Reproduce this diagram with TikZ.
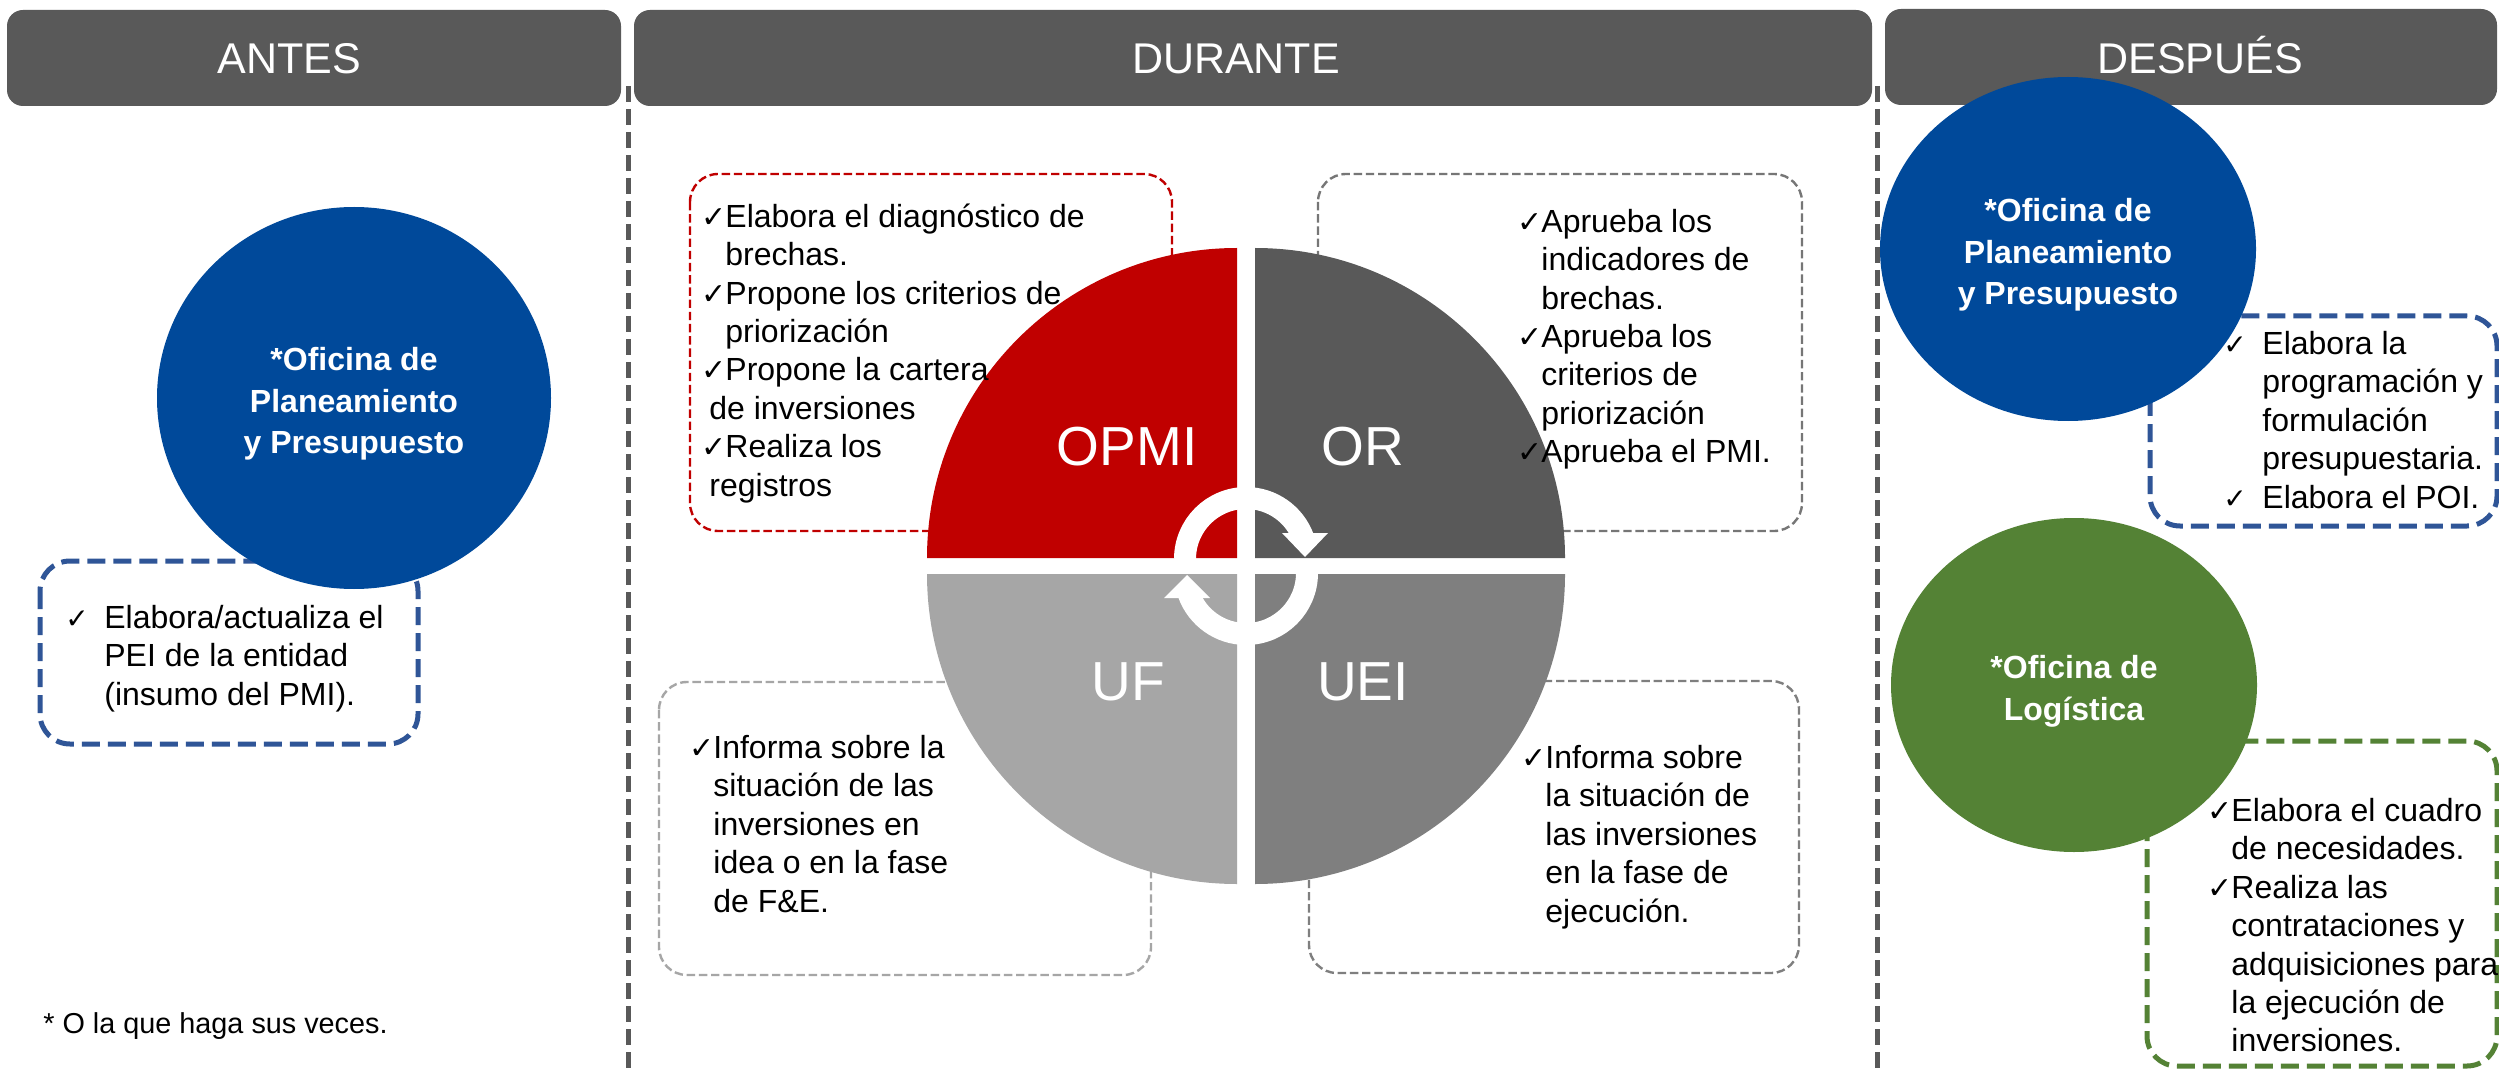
\documentclass[tikz,border=0pt]{standalone}
\usepackage{fontspec}
\setmainfont{Liberation Sans}
\newfontfamily\symf{DejaVu Sans}
\usetikzlibrary{shapes.geometric}
\definecolor{hdrgray}{HTML}{595959}
\definecolor{opmired}{HTML}{C00000}
\definecolor{ordark}{HTML}{595959}
\definecolor{ueigray}{HTML}{7F7F7F}
\definecolor{ufgray}{HTML}{A6A6A6}
\definecolor{blueoval}{HTML}{00499A}
\definecolor{boxblue}{HTML}{2F5597}
\definecolor{greenoval}{HTML}{548235}
\definecolor{orborder}{HTML}{767676}
\newcommand\ck{\makebox[12pt][l]{\symf\fontsize{15}{15}\selectfont ✓}}
\newcommand\ckw{\makebox[19.5pt][l]{\symf\fontsize{14}{14}\selectfont ✓}}
\newcommand\fl{\rule{0pt}{13pt}}
\begin{document}
\begin{tikzpicture}[x=0.5pt,y=-0.5pt,
  hdr/.style={fill=hdrgray, rounded corners=8pt, inner sep=0pt, minimum height=48pt},
  hdrtext/.style={text=white, anchor=base, inner sep=0pt, font=\fontsize{21.5}{24}\selectfont},
  sep/.style={draw=hdrgray, line width=2.5pt, dash pattern=on 8pt off 3.5pt},
  thinbox/.style={line width=1.2pt, dash pattern=on 4.2pt off 1.9pt, rounded corners=14pt},
  thickbox/.style={line width=2.5pt, dash pattern=on 9pt off 4pt, rounded corners=15pt},
  txt/.style={anchor=north west, inner sep=0pt, align=left, font=\fontsize{16}{19.2}\selectfont},
  oval/.style={ellipse, inner sep=0pt},
  ovaltext/.style={inner sep=0pt, text=white, align=center, font=\bfseries\fontsize{16}{20.8}\selectfont, yshift=-3pt},
  plabel/.style={text=white, anchor=base, inner sep=0pt, font=\fontsize{27.5}{30}\selectfont},
  ring/.style={white, line width=11pt},
]
\fill[white] (0,0) rectangle (2499,1069);
\useasboundingbox (0,0) rectangle (2499,1069);

% headers
\node[hdr, minimum width=307pt] (hA) at (314,58) {};
\node[hdr, minimum width=619pt] (hD) at (1253,58) {};
\node[hdr, minimum width=306pt] (hP) at (2191,57) {};
\node[hdrtext] (hAt) at (289,74) {ANTES};
\node[hdrtext] (hDt) at (1236,74) {DURANTE};
\node[hdrtext] (hPt) at (2200,74) {DESPUÉS};

% separators
\coordinate (s1t) at (628,86); \coordinate (s1b) at (628,1069);
\coordinate (s2t) at (1877,86); \coordinate (s2b) at (1877,1069);
\draw[sep] (s1t) -- (s1b);
\draw[sep] (s2t) -- (s2b);

% dashed boxes
\draw[thinbox, draw=opmired] (690,174) rectangle (1172,531);
\draw[thinbox, draw=orborder] (1318,174) rectangle (1802,531);
\draw[thinbox, draw=ufgray] (659,682) rectangle (1151,975);
\draw[thinbox, draw=ueigray] (1309,681) rectangle (1799,973);
\draw[thickbox, draw=boxblue] (40,561) rectangle (418,744);
\draw[thickbox, draw=boxblue] (2150,316) rectangle (2497,526);
\draw[thickbox, draw=greenoval] (2147,741) rectangle (2497,1066);

% pie
\fill[opmired] (1237,558) -- (927,558) arc[start angle=180, end angle=270, radius=310] -- cycle;
\fill[ordark] (1255,558) -- (1255,248) arc[start angle=270, end angle=360, radius=310] -- cycle;
\fill[ufgray] (1237,574) -- (927,574) arc[start angle=180, end angle=90, radius=310] -- cycle;
\fill[ueigray] (1255,574) -- (1565,574) arc[start angle=0, end angle=90, radius=310] -- cycle;

% cycle arrows
\draw[ring] (1185,559) arc[start angle=180, end angle=340, radius=61];
\fill[white] (1282,533) -- (1328,533) -- (1305,557) -- cycle;
\draw[ring] (1307,573) arc[start angle=0, end angle=160, radius=61];
\fill[white] (1164,598) -- (1210,598) -- (1187,575) -- cycle;

% pie labels
\node[plabel] (lOPMI) at (1127,466) {OPMI};
\node[plabel] (lOR) at (1363,466) {OR};
\node[plabel] (lUF) at (1128,700) {UF};
\node[plabel] (lUEI) at (1363,700) {UEI};

% ovals
\node[oval, fill=blueoval, minimum width=197pt, minimum height=191pt] (eA) at (354,398) {};
\node[ovaltext] (eAt) at (eA) {*Oficina de\\Planeamiento\\y Presupuesto};
\node[oval, fill=blueoval, minimum width=188pt, minimum height=172pt] (eP) at (2068,249) {};
\node[ovaltext] (ePt) at (eP) {*Oficina de\\Planeamiento\\y Presupuesto};
\node[oval, fill=greenoval, minimum width=183pt, minimum height=167pt] (eL) at (2074,685) {};
\node[ovaltext] (eLt) at (eL) {*Oficina de\\Logística};

% texts
\node[txt] (tOPMI) at (701,201) {\fl\ck Elabora el diagnóstico de\\\hspace*{12pt}brechas.\\\ck Propone los criterios de\\\hspace*{12pt}priorización\\\ck Propone la cartera\\\hspace*{4pt}de inversiones\\\ck Realiza los\\\hspace*{4pt}registros};
\node[txt] (tOR) at (1517,206) {\fl\ck Aprueba los\\\hspace*{12pt}indicadores de\\\hspace*{12pt}brechas.\\\ck Aprueba los\\\hspace*{12pt}criterios de\\\hspace*{12pt}priorización\\\ck Aprueba el PMI.};
\node[txt] (tUF) at (689,732) {\fl\ck Informa sobre la\\\hspace*{12pt}situación de las\\\hspace*{12pt}inversiones en\\\hspace*{12pt}idea o en la fase\\\hspace*{12pt}de F\&E.};
\node[txt] (tUEI) at (1521,742) {\fl\ck Informa sobre\\\hspace*{12pt}la situación de\\\hspace*{12pt}las inversiones\\\hspace*{12pt}en la fase de\\\hspace*{12pt}ejecución.};
\node[txt] (tA) at (65,602) {\fl\ckw Elabora/actualiza el\\\hspace*{19.5pt}PEI de la entidad\\\hspace*{19.5pt}(insumo del PMI).};
\node[txt] (tP) at (2223,328) {\fl\ckw Elabora la\\\hspace*{19.5pt}programación y\\\hspace*{19.5pt}formulación\\\hspace*{19.5pt}presupuestaria.\\\ckw Elabora el POI.};
\node[txt] (tL) at (2207,795) {\fl\ck Elabora el cuadro\\\hspace*{12pt}de necesidades.\\\ck Realiza las\\\hspace*{12pt}contrataciones y\\\hspace*{12pt}adquisiciones para\\\hspace*{12pt}la ejecución de\\\hspace*{12pt}inversiones.};

\node[anchor=base west, inner sep=0pt, font=\fontsize{14.4}{17}\selectfont] (fn) at (43,1033) {* O la que haga sus veces.};
\end{tikzpicture}
\end{document}
